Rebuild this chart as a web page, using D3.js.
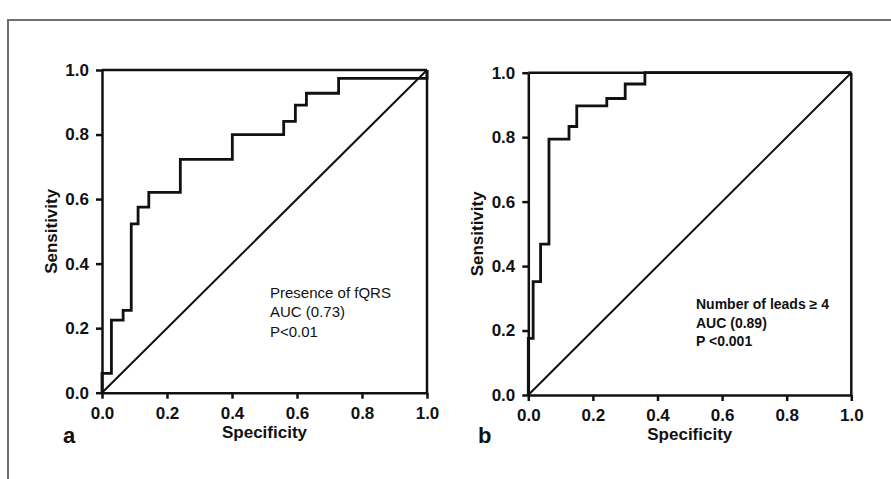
<!DOCTYPE html>
<html lang="en">
<head>
<meta charset="UTF-8">
<title>ROC curves</title>
<style>
  body { margin: 0; background: #fff; }
  svg text { font-family: "Liberation Sans", Arial, sans-serif; fill: #111; }
</style>
</head>
<body>
<script src="https://cdn.jsdelivr.net/npm/d3@7"></script>
<div id="chart"></div>
<script>

// ROC points (1 - specificity, sensitivity)
const fprA = [0, 0, 0.029, 0.065, 0.09, 0.111, 0.144, 0.241, 0.401, 0.559, 0.595, 0.629, 0.728, 1];
const tprA = [0, 0.06, 0.225, 0.255, 0.523, 0.575, 0.621, 0.723, 0.80, 0.841, 0.891, 0.928, 0.974, 1];

const fprB = [0, 0, 0.015, 0.038, 0.064, 0.126, 0.15, 0.243, 0.30, 0.361, 1];
const tprB = [0, 0.176, 0.352, 0.468, 0.794, 0.833, 0.897, 0.92, 0.965, 1, 1];

const ticks = [0, 0.2, 0.4, 0.6, 0.8, 1.0];

const notesA = ["Presence of fQRS", "AUC (0.73)", "P<0.01"];
const notesB = ["Number of leads \u2265 4", "AUC (0.89)", "P <0.001"];

const W = 891, H = 479;

const svg = d3.select("#chart")
  .append("svg")
    .attr("width", W)
    .attr("height", H);

// grey frame around the figure (top and left edges visible)
svg.append("path")
  .attr("d", `M8,${H} L8,20 L${W},20`)
  .attr("fill", "none")
  .attr("stroke", "#707070")
  .attr("stroke-width", 2);

function panel(opt) {
  const x = d3.scaleLinear().domain([0, 1]).range(opt.xr);
  const y = d3.scaleLinear().domain([0, 1]).range(opt.yr);
  const g = svg.append("g");

  // box: top and right edges
  g.append("line")
    .attr("x1", x(0)).attr("x2", x(1))
    .attr("y1", y(1)).attr("y2", y(1))
    .attr("stroke", "#111").attr("stroke-width", 2.5);
  g.append("line")
    .attr("x1", x(1)).attr("x2", x(1))
    .attr("y1", y(0)).attr("y2", y(1))
    .attr("stroke", "#111").attr("stroke-width", 2.5);

  // reference diagonal
  g.append("line")
    .attr("x1", x(0)).attr("y1", y(0))
    .attr("x2", x(1)).attr("y2", y(1))
    .attr("stroke", "#111").attr("stroke-width", 2);

  // ROC step curve
  const pts = opt.fpr.map((f, i) => [f, opt.tpr[i]]);
  g.append("path")
    .datum(pts)
    .attr("fill", "none")
    .attr("stroke", "#111")
    .attr("stroke-width", 2.8)
    .attr("d", d3.line()
      .x(d => x(d[0]))
      .y(d => y(d[1]))
      .curve(d3.curveStepAfter));

  // axes
  const ax = g.append("g")
    .attr("transform", `translate(0,${y(0)})`)
    .call(d3.axisBottom(x).tickValues(ticks).tickFormat(d3.format(".1f"))
      .tickSizeInner(6).tickSizeOuter(0).tickPadding(8));
  const ay = g.append("g")
    .attr("transform", `translate(${x(0)},0)`)
    .call(d3.axisLeft(y).tickValues(ticks).tickFormat(d3.format(".1f"))
      .tickSizeInner(6).tickSizeOuter(0).tickPadding(7));
  [ax, ay].forEach(a => {
    a.select(".domain").attr("stroke", "#111").attr("stroke-width", 2.5);
    a.selectAll(".tick line").attr("stroke", "#111").attr("stroke-width", 2.5);
    a.selectAll(".tick text")
      .attr("fill", "#111")
      .style("font-size", "17px")
      .style("font-weight", "bold");
  });

  // axis titles
  g.append("text")
    .attr("x", (x(0) + x(1)) / 2)
    .attr("y", y(0) + 45)
    .attr("text-anchor", "middle")
    .style("font-size", "17px")
    .style("font-weight", "bold")
    .text("Specificity");
  g.append("text")
    .attr("transform", `translate(${x(0) - 45},${(y(0) + y(1)) / 2}) rotate(-90)`)
    .attr("text-anchor", "middle")
    .style("font-size", "17px")
    .style("font-weight", "bold")
    .text("Sensitivity");

  // panel letter
  g.append("text")
    .attr("x", opt.letterX)
    .attr("y", 443)
    .style("font-size", "22px")
    .style("font-weight", "bold")
    .text(opt.letter);

  // annotation
  g.selectAll("text.note")
    .data(opt.notes)
    .join("text")
      .attr("class", "note")
      .attr("x", opt.noteX)
      .attr("y", (d, i) => opt.noteY + i * opt.noteGap)
      .style("font-size", opt.noteSize)
      .style("font-weight", opt.noteWeight)
      .text(d => d);
}

panel({
  xr: [102, 427], yr: [392.7, 70],
  fpr: fprA, tpr: tprA,
  letter: "a", letterX: 63,
  notes: notesA, noteX: 270, noteY: 298, noteGap: 19.3,
  noteSize: "15px", noteWeight: "normal"
});

panel({
  xr: [528.3, 851.3], yr: [395, 72.7],
  fpr: fprB, tpr: tprB,
  letter: "b", letterX: 478,
  notes: notesB, noteX: 696, noteY: 309, noteGap: 18.5,
  noteSize: "14px", noteWeight: "bold"
});

</script>
</body>
</html>
